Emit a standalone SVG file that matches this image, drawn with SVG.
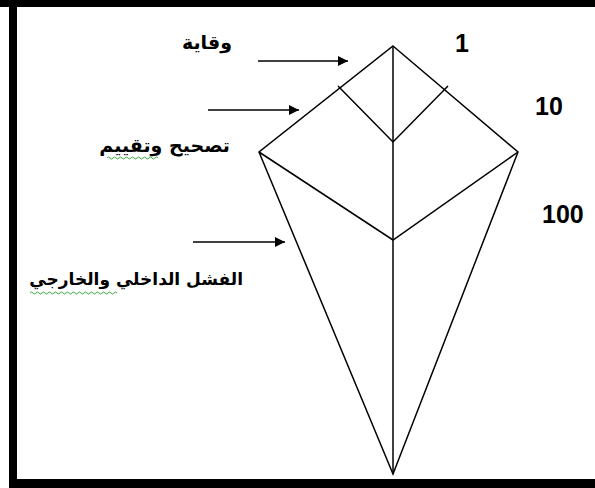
<svg xmlns="http://www.w3.org/2000/svg" width="595" height="488" viewBox="0 0 595 488">
<style>
.ln{stroke:#000;stroke-width:1.5;fill:none;stroke-linejoin:miter}
.ar{font-family:"DejaVu Sans",sans-serif;font-weight:bold;font-size:17px;fill:#000}
.big{font-size:19px}
.num{font-family:"Liberation Sans",Arial,sans-serif;font-weight:bold;font-size:25px;fill:#000}
.wave{stroke:#3aa83a;stroke-width:1;fill:none}
</style>
<defs>
<marker id="ah" markerWidth="10" markerHeight="10" refX="10" refY="5" orient="auto" markerUnits="userSpaceOnUse">
<path d="M0,0 L10,5 L0,10 Z" fill="#000"/>
</marker>
</defs>
<rect width="595" height="488" fill="#fff"/>
<g id="frame" fill="#000">
<rect x="0" y="0" width="595" height="7"/>
<rect x="9" y="0" width="8" height="488"/>
<rect x="9" y="479" width="586" height="9"/>
</g>
<g id="kite">
<path class="ln" d="M393,46 L518,152 L393,474 L259,152 Z"/>
<path class="ln" d="M393,46 L393,474"/>
<path class="ln" d="M259,152 L393,240 L518,152"/>
<path class="ln" d="M338,86 L393,142 L448,86"/>
</g>
<g id="connectors">
<line class="ln" x1="258" y1="61" x2="348" y2="61" marker-end="url(#ah)"/>
<line class="ln" x1="208" y1="110" x2="299" y2="110" marker-end="url(#ah)"/>
<line class="ln" x1="193" y1="242" x2="285" y2="242" marker-end="url(#ah)"/>
</g>
<g id="label-prevention">
<text class="ar big" x="232" y="49" text-anchor="end">وقاية</text>
</g>
<g id="label-correction">
<text class="ar big" x="230" y="152" text-anchor="end">تصحيح وتقييم</text>
<path class="wave" d="M107,158 q1.5,-2 3,0 t3,0 t3,0 t3,0 t3,0 t3,0 t3,0 t3,0 t3,0 t3,0 t3,0 t3,0 t3,0 t3,0 t3,0 t3,0 t3,0"/>
</g>
<g id="label-failure">
<text class="ar" x="243" y="285" text-anchor="end">الفشل الداخلي والخارجي</text>
<path class="wave" d="M30,293 q1.5,-2 3,0 t3,0 t3,0 t3,0 t3,0 t3,0 t3,0 t3,0 t3,0 t3,0 t3,0 t3,0 t3,0 t3,0 t3,0 t3,0 t3,0 t3,0 t3,0 t3,0 t3,0 t3,0 t3,0 t3,0 t3,0 t3,0 t3,0 t3,0 t3,0"/>
</g>
<g id="numbers">
<text class="num" x="455" y="52">1</text>
<text class="num" x="535" y="115">10</text>
<text class="num" x="542" y="223">100</text>
</g>
</svg>
